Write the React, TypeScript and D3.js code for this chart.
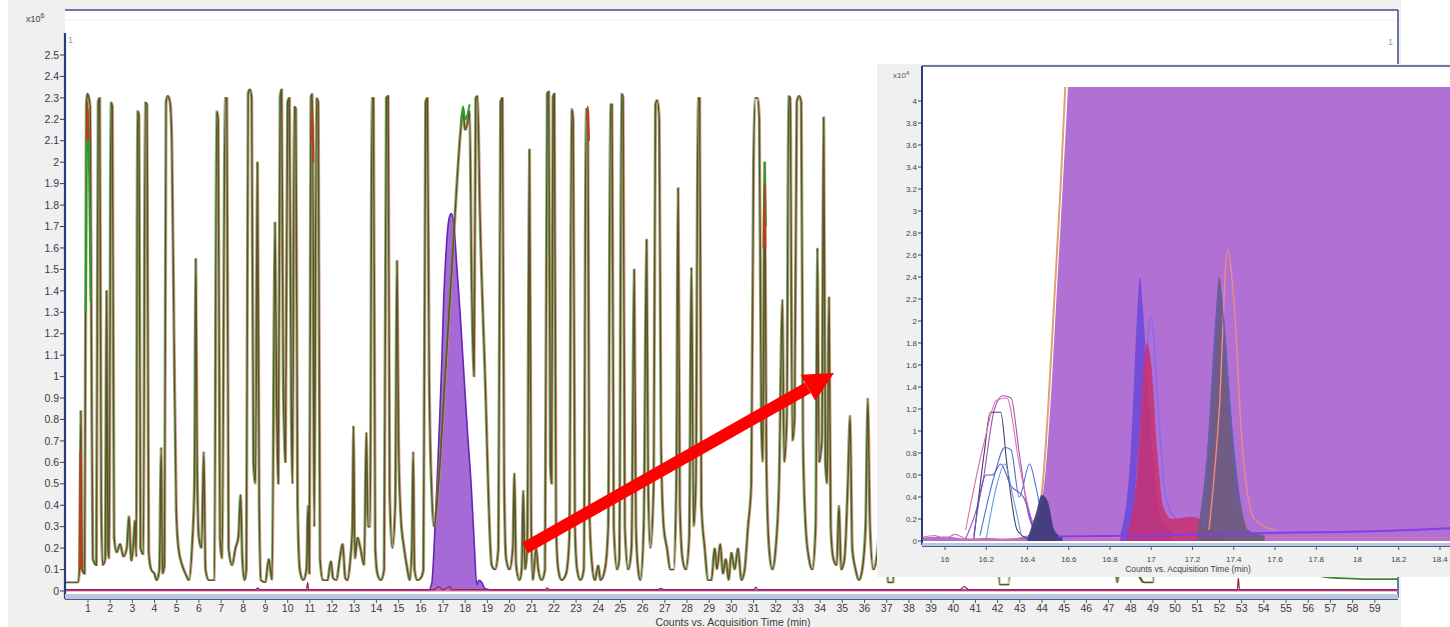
import React from 'react';
import * as d3 from 'd3';

type P = [number, number];

// ---------- Main chart (x: minutes, y: counts x10^6) ----------
const mainXTicks: number[] = d3.range(1, 60);
const mainYTicks: number[] = d3.range(0, 26).map((i) => i / 10);

const oliveTrace: P[] = [
  [0,0.04],[0.55,0.04],[0.62,0.1],[0.68,0.84],[0.74,0.1],[0.85,0.08],[0.93,2.27],[0.98,2.32],[1.04,2.3],[1.1,2.26],[1.16,1.1],[1.22,0.15],[1.38,0.12],[1.46,2.28],[1.53,2.3],[1.6,0.4],[1.66,0.12],[1.78,0.15],[1.84,1.4],[1.9,0.2],[1.96,0.15],[2.03,2.28],[2.1,2.26],[2.18,0.25],[2.3,0.18],[2.45,0.22],[2.6,0.16],[2.75,0.2],[2.85,0.35],[2.95,0.14],[3.05,0.22],[3.12,0.33],[3.18,0.16],[3.23,2.24],[3.3,2.22],[3.37,0.2],[3.5,0.17],[3.58,2.28],[3.66,2.27],[3.74,0.18],[3.85,0.1],[4.0,0.08],[4.1,0.05],[4.22,0.1],[4.3,0.67],[4.36,0.08],[4.45,0.12],[4.52,2.28],[4.6,2.31],[4.7,2.28],[4.78,2.1],[4.88,1.2],[4.98,0.38],[5.08,0.2],[5.25,0.12],[5.4,0.08],[5.55,0.05],[5.7,0.22],[5.8,0.5],[5.86,1.55],[5.92,0.6],[6.0,0.25],[6.12,0.2],[6.22,0.65],[6.3,0.1],[6.45,0.05],[6.7,0.05],[6.8,2.24],[6.87,2.2],[6.95,0.25],[7.05,0.15],[7.18,2.3],[7.26,2.3],[7.34,0.2],[7.5,0.12],[7.65,0.2],[7.78,0.25],[7.88,0.45],[7.96,0.15],[8.06,0.05],[8.14,0.1],[8.22,2.32],[8.3,2.34],[8.38,2.3],[8.46,0.6],[8.55,0.5],[8.64,2.0],[8.72,0.4],[8.8,0.05],[9.0,0.04],[9.15,0.15],[9.3,0.05],[9.43,1.72],[9.5,0.9],[9.58,0.5],[9.66,2.3],[9.73,2.34],[9.8,1.0],[9.9,0.6],[10.0,2.28],[10.08,2.3],[10.16,0.9],[10.22,0.5],[10.3,2.26],[10.37,2.25],[10.45,0.4],[10.55,0.1],[10.7,0.05],[10.85,0.1],[10.92,0.4],[10.98,0.08],[11.05,2.3],[11.12,2.32],[11.2,0.3],[11.3,2.3],[11.38,2.28],[11.46,0.15],[11.6,0.05],[11.8,0.05],[11.95,0.14],[12.05,0.06],[12.2,0.05],[12.35,0.15],[12.48,0.22],[12.6,0.06],[12.7,0.05],[12.82,0.14],[12.92,0.3],[12.97,0.77],[13.03,0.15],[13.15,0.25],[13.28,0.2],[13.45,0.12],[13.55,0.74],[13.62,0.3],[13.72,0.3],[13.8,2.3],[13.87,2.3],[13.95,0.2],[14.05,0.08],[14.2,0.05],[14.35,0.1],[14.45,2.3],[14.53,2.31],[14.6,0.45],[14.72,0.2],[14.85,0.4],[14.93,1.54],[15.0,0.7],[15.1,0.35],[15.25,0.2],[15.4,0.1],[15.5,0.05],[15.6,0.2],[15.66,0.65],[15.72,0.1],[15.85,0.05],[16.0,0.06],[16.12,0.1],[16.22,2.28],[16.3,2.3],[16.38,1.0],[16.5,0.45],[16.6,0.3],[16.8,0.5],[17.1,1.0],[17.4,1.5],[17.6,1.85],[17.8,2.15],[17.9,2.24],[18.0,2.15],[18.1,2.18],[18.2,2.24],[18.3,1.4],[18.4,1.0],[18.48,2.3],[18.56,2.31],[18.66,1.8],[18.9,1.0],[19.2,0.12],[19.35,0.1],[19.5,0.2],[19.6,2.28],[19.68,2.3],[19.76,0.5],[19.85,0.15],[20.0,0.1],[20.15,0.2],[20.22,0.55],[20.3,0.12],[20.45,0.05],[20.55,0.1],[20.62,0.47],[20.7,0.1],[20.8,0.2],[20.9,2.06],[20.98,0.3],[21.05,0.05],[21.2,0.2],[21.3,0.1],[21.45,0.05],[21.6,0.1],[21.7,2.32],[21.77,2.33],[21.84,0.6],[21.9,0.5],[21.96,2.3],[22.02,2.32],[22.1,0.3],[22.2,0.1],[22.35,0.05],[22.55,0.08],[22.7,0.25],[22.8,2.25],[22.87,2.2],[22.95,0.3],[23.05,0.1],[23.2,0.05],[23.35,0.1],[23.45,2.25],[23.53,2.24],[23.6,0.4],[23.7,0.15],[23.85,0.05],[24.0,0.12],[24.1,0.05],[24.3,0.1],[24.45,0.3],[24.55,2.27],[24.62,2.27],[24.7,0.3],[24.85,0.1],[24.95,0.15],[25.05,2.32],[25.12,2.3],[25.2,0.3],[25.35,0.1],[25.5,0.2],[25.62,1.5],[25.7,0.3],[25.8,0.1],[25.9,0.05],[26.05,0.3],[26.18,1.64],[26.25,0.5],[26.35,0.2],[26.5,0.5],[26.58,2.27],[26.66,2.29],[26.75,2.2],[26.83,0.7],[26.95,0.3],[27.1,0.2],[27.25,0.1],[27.4,0.1],[27.52,0.5],[27.6,1.88],[27.68,0.4],[27.8,0.15],[27.95,0.1],[28.1,0.25],[28.2,1.51],[28.3,0.3],[28.4,0.5],[28.5,2.3],[28.57,2.3],[28.65,0.4],[28.8,0.2],[28.95,0.05],[29.1,0.05],[29.25,0.2],[29.35,0.1],[29.5,0.22],[29.62,0.08],[29.75,0.15],[29.88,0.05],[30.0,0.18],[30.15,0.1],[30.3,0.2],[30.45,0.05],[30.6,0.1],[30.75,0.3],[30.9,0.5],[31.0,2.0],[31.08,2.3],[31.18,2.3],[31.26,2.2],[31.35,0.8],[31.42,0.6],[31.5,2.0],[31.58,0.6],[31.7,0.2],[31.85,0.1],[32.0,0.2],[32.15,0.5],[32.3,1.36],[32.38,0.6],[32.5,0.8],[32.58,2.31],[32.65,2.3],[32.75,0.7],[32.85,0.8],[32.95,2.28],[33.05,2.31],[33.15,2.28],[33.23,0.7],[33.35,0.3],[33.5,0.15],[33.65,0.1],[33.8,0.3],[33.88,1.6],[33.95,0.6],[34.08,0.7],[34.16,2.21],[34.24,0.6],[34.32,0.5],[34.4,1.37],[34.48,0.3],[34.6,0.15],[34.75,0.12],[34.85,0.4],[34.95,0.1],[35.1,0.15],[35.25,0.5],[35.35,0.82],[35.45,0.2],[35.6,0.1],[35.75,0.05],[35.9,0.1],[36.05,0.3],[36.15,0.9],[36.25,0.3],[36.4,0.1],[36.6,0.2],[36.8,0.6],[36.95,0.9],[37.05,0.04],[37.3,0.04],[37.4,1.0],[37.8,0.5],[38.5,0.9],[39.2,0.4],[39.9,0.3],[40.2,0.08],[40.35,1.2],[40.6,0.3],[41.2,0.6],[41.9,0.4],[42.1,0.03],[42.5,0.03],[42.7,0.9],[44,0.5],[45.5,1.0],[47.2,0.3],[47.4,0.04],[47.6,0.3],[48.6,0.04],[49.0,0.04],[49.3,0.8],[50.5,0.5],[52,1.0],[53.5,0.4],[55,0.8],[56,0.3],[56.3,0.12]
];

const greenTail: P[] = [[56.3,0.12],[56.5,0.07],[57,0.062],[58,0.058],[59,0.055],[60,0.055]];
const greenSegs: P[][] = [
  [[0.9,1.3],[0.95,2.15],[1.0,2.25],[1.05,1.95],[1.12,1.35]],
  [[17.82,2.18],[17.9,2.26],[18.0,2.2],[18.1,2.22],[18.2,2.27]],
  [[31.45,1.6],[31.5,2.0],[31.55,1.7]],
];
const redSegs: P[][] = [
  [[0.62,0.1],[0.66,0.65],[0.7,0.1]],
  [[0.95,2.1],[0.98,2.28],[1.02,2.1]],
  [[11.08,2.1],[11.12,2.25],[11.16,2.0]],
  [[23.48,2.2],[23.53,2.26],[23.58,2.1]],
  [[31.47,1.6],[31.5,1.9],[31.53,1.6]],
];

const purpleMain: P[] = [
  [0,0.004],[16.35,0.004],[16.5,0.04],[16.62,0.25],[16.73,0.5],[16.85,0.8],[16.95,1.08],[17.03,1.35],[17.15,1.6],[17.28,1.74],[17.38,1.76],[17.5,1.7],[17.62,1.52],[17.77,1.3],[17.92,1.05],[18.1,0.75],[18.28,0.48],[18.42,0.2],[18.52,0.03],[18.62,0.05],[18.75,0.04],[18.9,0.01],[19.3,0.004],[60,0.004]
];

const redBase: P[] = [
  [0,0.006],[8.55,0.006],[8.65,0.015],[8.75,0.006],[10.85,0.006],[10.9,0.04],[10.95,0.006],[16.6,0.006],[16.8,0.02],[17.0,0.006],[17.3,0.02],[17.4,0.006],[21.6,0.006],[21.7,0.015],[21.8,0.006],[26.7,0.006],[26.8,0.012],[27.0,0.006],[31.0,0.006],[31.1,0.018],[31.2,0.006],[40.3,0.006],[40.5,0.02],[40.7,0.006],[52.8,0.006],[52.85,0.06],[52.9,0.006],[60,0.006]
];

// ---------- Inset (x: 15.9-18.4 min, y: counts x10^4) ----------
const insetXTicks: number[] = [16, 16.2, 16.4, 16.6, 16.8, 17, 17.2, 17.4, 17.6, 17.8, 18, 18.2, 18.4];
const insetYTicks: number[] = d3.range(0, 21).map((i) => i / 5);

const insetBig: P[] = [
  [15.88,0.03],[16.0,0.04],[16.1,0.02],[16.2,0.03],[16.3,0.02],[16.4,0.05],[16.44,0.2],[16.48,0.5],[16.51,1.2],[16.54,2.2],[16.57,3.2],[16.6,4.3],[16.7,12],[17.3,176],[18.0,60],[18.5,10]
];
const insetOrange: P[] = [[16.42,0.08],[16.47,0.45],[16.5,1.2],[16.53,2.2],[16.56,3.2],[16.59,4.4]];
const insetSmall: { c: string; d: P[] }[] = [
  { c: '#a050c0', d: [[16.1,0.02],[16.18,0.5],[16.24,1.2],[16.28,1.32],[16.32,1.3],[16.36,0.8],[16.41,0.2],[16.46,0.05]] },
  { c: '#404060', d: [[16.14,0.02],[16.19,0.8],[16.22,1.17],[16.27,1.17],[16.3,0.7],[16.35,0.1],[16.4,0.02]] },
  { c: '#e070b0', d: [[16.1,0.1],[16.19,0.9],[16.25,1.28],[16.3,1.3],[16.36,0.7],[16.42,0.2],[16.48,0.05]] },
  { c: '#5070d0', d: [[16.17,0.05],[16.24,0.6],[16.29,0.85],[16.32,0.83],[16.36,0.4],[16.41,0.7],[16.44,0.5],[16.48,0.1]] },
  { c: '#7050d0', d: [[16.14,0.05],[16.2,0.6],[16.23,0.6],[16.27,0.7],[16.32,0.5],[16.38,0.4],[16.43,0.1]] },
  { c: '#60a0e0', d: [[16.2,0.02],[16.25,0.5],[16.29,0.7],[16.33,0.4],[16.37,0.05]] },
];
const insetPink: P[] = [[15.88,0.03],[15.95,0.05],[16.0,0.02],[16.05,0.06],[16.1,0.02],[16.2,0.01],[16.45,0.03],[17.0,0.03],[18.5,0.03]];
const insetNavy: P[] = [[16.4,0.02],[16.44,0.25],[16.47,0.42],[16.5,0.35],[16.53,0.1],[16.57,0.03]];
const insetBlueFill: P[] = [[16.85,0.05],[16.9,0.8],[16.93,2.0],[16.945,2.4],[16.96,2.1],[16.99,1.2],[17.02,0.5],[17.06,0.15],[17.1,0.1]];
const insetViolet: P[] = [[16.92,0.3],[16.97,1.5],[17.0,2.05],[17.03,1.3],[17.07,0.4],[17.12,0.2]];
const insetRedFill: P[] = [[16.88,0.05],[16.93,0.6],[16.96,1.5],[16.98,1.8],[17.0,1.6],[17.03,0.8],[17.06,0.3],[17.1,0.2],[17.2,0.22],[17.25,0.18],[17.3,0.1],[17.35,0.05]];
const insetGrayFill: P[] = [[17.22,0.05],[17.27,0.8],[17.31,2.0],[17.33,2.4],[17.35,2.1],[17.39,1.1],[17.43,0.4],[17.47,0.1],[17.55,0.05]];
const insetOrangePeak: P[] = [[17.28,0.1],[17.33,1.2],[17.37,2.65],[17.4,2.2],[17.44,0.9],[17.5,0.2],[17.6,0.1]];
const insetBlueLine: P[] = [[17.25,0.1],[17.3,1.5],[17.33,2.3],[17.37,1.5],[17.42,0.3]];
const insetBaseViolet: P[] = [[16.55,0.04],[17.0,0.05],[17.5,0.07],[17.8,0.08],[18.1,0.09],[18.5,0.12]];

const FONT = 'Liberation Sans, Arial, sans-serif';

export default function App() {
  const x = d3.scaleLinear().domain([0, 60]).range([65.8, 1397]);
  const y = d3.scaleLinear().domain([0, 2.5]).range([591, 55]);
  const line = d3.line<P>().x((d) => x(d[0])).y((d) => y(d[1])).curve(d3.curveMonotoneX);
  const area = d3.area<P>().x((d) => x(d[0])).y0(y(0)).y1((d) => y(d[1])).curve(d3.curveMonotoneX);

  const xi = d3.scaleLinear().domain([16, 18.4]).range([945, 1440]);
  const yi = d3.scaleLinear().domain([0, 4]).range([541, 101]);
  const lineI = d3.line<P>().x((d) => xi(d[0])).y((d) => yi(d[1])).curve(d3.curveMonotoneX);
  const areaI = d3.area<P>().x((d) => xi(d[0])).y0(yi(0)).y1((d) => yi(d[1])).curve(d3.curveMonotoneX);

  const olive = line(oliveTrace) || '';

  // arrow geometry (annotation, pixel space)
  const tail = [525, 548];
  const tip = [834, 373];
  const dx = tip[0] - tail[0], dy = tip[1] - tail[1];
  const L = Math.hypot(dx, dy);
  const ux = dx / L, uy = dy / L, nx = -uy, ny = ux;
  const hb = [tip[0] - 30 * ux, tip[1] - 30 * uy];
  const hw = 15;

  return (
    <svg width={1450} height={627} style={{ position: 'absolute', left: 0, top: 0, fontFamily: FONT }}>
      <defs>
        <clipPath id="mainClip"><rect x={65} y={30} width={1333} height={567} /></clipPath>
        <clipPath id="insetClip"><rect x={923} y={87} width={527} height={456} /></clipPath>
      </defs>
      <rect x={0} y={0} width={1450} height={627} fill="#ffffff" />
      {/* main chart frame */}
      <rect x={8} y={0} width={1393} height={627} fill="#f0f0f0" />
      <rect x={65} y={10} width={1333} height={587} fill="#ffffff" />
      <line x1={65} y1={20} x2={1398} y2={20} stroke="#fbefe6" strokeWidth={1} />
      <line x1={65} y1={10} x2={1398} y2={10} stroke="#3c4c88" strokeWidth={1.5} />
      <line x1={1398} y1={10} x2={1398} y2={598} stroke="#3c4c88" strokeWidth={1.5} />
      <text x={68} y={43} fontSize={9} fill="#999">1</text>
      <text x={1388} y={45} fontSize={9} fill="#999">1</text>

      <g clipPath="url(#mainClip)">
        <path d={area(purpleMain) || ''} fill="#a66ad6" />
        <path d={line(purpleMain) || ''} fill="none" stroke="#6626b4" strokeWidth={1.6} />
        <line x1={65} x2={1398} y1={y(0)} y2={y(0)} stroke="#e070a0" strokeWidth={1.2} />
        <path d={line(redBase) || ''} fill="none" stroke="#a02040" strokeWidth={1.2} />
        <path d={olive} fill="none" stroke="#d4866a" strokeWidth={1.2} transform="translate(1,0)" opacity={0.75} />
        <path d={olive} fill="none" stroke="#5a9a44" strokeWidth={1.2} transform="translate(-1,0)" opacity={0.75} />
        <path d={olive} fill="none" stroke="#5a5426" strokeWidth={1.5} />
        {greenSegs.map((s, i) => (
          <path key={'g' + i} d={line(s) || ''} fill="none" stroke="#2e9a2e" strokeWidth={2} />
        ))}
        {redSegs.map((s, i) => (
          <path key={'r' + i} d={line(s) || ''} fill="none" stroke="#c03a20" strokeWidth={2} />
        ))}
        <path d={line(greenTail) || ''} fill="none" stroke="#3a8a2a" strokeWidth={1.8} />
      </g>

      {/* main y axis */}
      <line x1={65} y1={33} x2={65} y2={599} stroke="#2c3c7c" strokeWidth={2.2} />
      {mainYTicks.map((v) => (
        <g key={'my' + v}>
          <line x1={60} x2={65} y1={y(v)} y2={y(v)} stroke="#2c3c7c" strokeWidth={1} />
          <text x={59} y={y(v)} dy="0.35em" textAnchor="end" fontSize={10.5} fill="#3a3a3a">{String(v)}</text>
        </g>
      ))}
      <text x={26} y={22} fontSize={9} fill="#444">x10<tspan dy={-4} fontSize={7}>6</tspan></text>

      {/* main x axis */}
      <rect x={65} y={594} width={1333} height={5} fill="#b8c8d8" />
      <line x1={65} x2={1398} y1={599.5} y2={599.5} stroke="#4a5a8c" strokeWidth={1.2} />
      {mainXTicks.map((t) => (
        <g key={'mx' + t}>
          <line x1={x(t)} x2={x(t)} y1={599} y2={603} stroke="#4a5a8c" strokeWidth={1} />
          <text x={x(t)} y={612} textAnchor="middle" fontSize={10.5} fill="#3a3a3a">{String(t)}</text>
        </g>
      ))}
      <text x={733} y={626} textAnchor="middle" fontSize={10.5} fill="#3a3a3a">Counts vs. Acquisition Time (min)</text>

      {/* red arrow annotation */}
      <line x1={tail[0]} y1={tail[1]} x2={hb[0]} y2={hb[1]} stroke="#ff0000" strokeWidth={12} />
      <polygon
        points={`${tip[0]},${tip[1]} ${hb[0] + hw * nx},${hb[1] + hw * ny} ${hb[0] - hw * nx},${hb[1] - hw * ny}`}
        fill="#ff0000"
      />

      {/* inset */}
      <rect x={877} y={64} width={573} height={513} fill="#f0f0f0" />
      <rect x={922} y={66} width={528} height={477} fill="#ffffff" />
      <g clipPath="url(#insetClip)">
        <path d={areaI(insetBig) || ''} fill="#b070d4" />
        <path d={lineI(insetOrange) || ''} fill="none" stroke="#e0a070" strokeWidth={2} />
        <path d={lineI(insetPink) || ''} fill="none" stroke="#e070a0" strokeWidth={1.2} />
        {insetSmall.map((s, i) => (
          <path key={'is' + i} d={lineI(s.d) || ''} fill="none" stroke={s.c} strokeWidth={1.1} />
        ))}
        <path d={areaI(insetNavy) || ''} fill="#3a3a78" opacity={0.9} />
        <path d={areaI(insetBlueFill) || ''} fill="#6a48d8" opacity={0.85} />
        <path d={lineI(insetViolet) || ''} fill="none" stroke="#8a6af0" strokeWidth={1.5} />
        <path d={areaI(insetRedFill) || ''} fill="#c83070" opacity={0.85} />
        <path d={areaI(insetGrayFill) || ''} fill="#6a5a7a" opacity={0.9} />
        <path d={lineI(insetOrangePeak) || ''} fill="none" stroke="#e88a8a" strokeWidth={1.5} />
        <path d={lineI(insetBlueLine) || ''} fill="none" stroke="#5a60d0" strokeWidth={1.2} />
        <path d={lineI(insetBaseViolet) || ''} fill="none" stroke="#8040e8" strokeWidth={2} />
      </g>
      <line x1={922} x2={1450} y1={66} y2={66} stroke="#3c4c88" strokeWidth={1.5} />
      <line x1={922} x2={922} y1={66} y2={545} stroke="#2c3c7c" strokeWidth={2} />
      <rect x={922} y={543} width={528} height={3} fill="#b8c8d8" />
      <line x1={922} x2={1450} y1={546.5} y2={546.5} stroke="#4a5a8c" strokeWidth={1} />
      {insetYTicks.map((v) => (
        <g key={'iy' + v}>
          <line x1={918} x2={922} y1={yi(v)} y2={yi(v)} stroke="#2c3c7c" strokeWidth={1} />
          <text x={917} y={yi(v)} dy="0.35em" textAnchor="end" fontSize={8} fill="#444">{String(+v.toFixed(1))}</text>
        </g>
      ))}
      <text x={893} y={78} fontSize={8} fill="#555">x10<tspan dy={-3} fontSize={6}>4</tspan></text>
      {insetXTicks.map((t) => (
        <g key={'ix' + t}>
          <line x1={xi(t)} x2={xi(t)} y1={546} y2={550} stroke="#4a5a8c" strokeWidth={1} />
          <text x={xi(t)} y={562} textAnchor="middle" fontSize={8} fill="#444">{String(t)}</text>
        </g>
      ))}
      <text x={1188} y={572} textAnchor="middle" fontSize={8.5} fill="#444">Counts vs. Acquisition Time (min)</text>
    </svg>
  );
}
